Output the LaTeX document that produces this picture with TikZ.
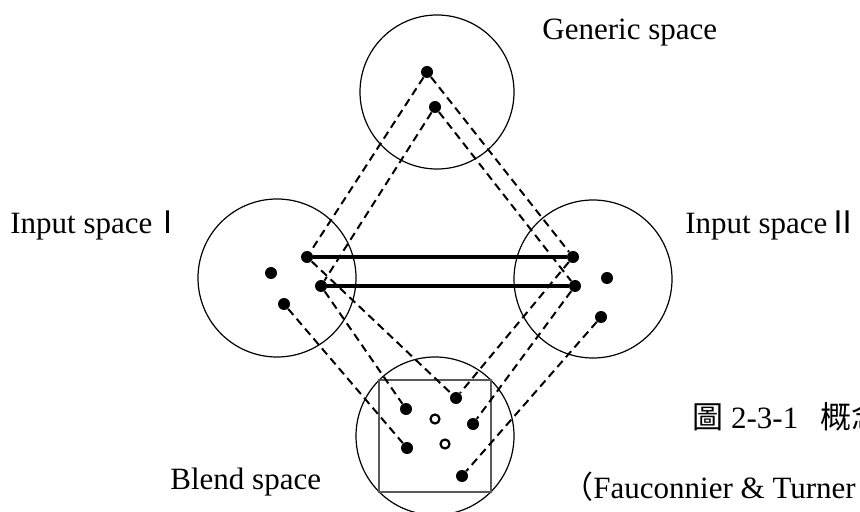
\documentclass[tikz,border=0pt]{standalone}
\usepackage{fontspec}
\setmainfont{Liberation Serif}
\newfontfamily\cjk{Noto Sans CJK TC}
\tikzset{
  space/.style={circle, draw, line width=0.6pt, minimum size=79pt, inner sep=0pt},
  dot/.style={circle, fill=black, minimum size=6pt, inner sep=0pt},
  hollow/.style={circle, draw, line width=1.1pt, fill=white, minimum size=4.5pt, inner sep=0pt},
  link/.style={line width=1pt, dash pattern=on 4pt off 2.5pt},
  map/.style={line width=2.2pt},
  frame/.style={draw=black!65, line width=0.7pt},
  label/.style={anchor=base west, inner sep=0pt, font=\fontsize{15.5}{18}\selectfont}
}

\begin{document}
\begin{tikzpicture}[x=0.5pt, y=-0.5pt]
    \useasboundingbox (0,0) rectangle (860,512);
    \clip (0,0) rectangle (860,512);

    % the four spaces
    \node (gen) [space, minimum size=77pt] at (437,92) {};
    \node (inI) [space] at (277,278) {};
    \node (inII) [space] at (593,279) {};
    \node (blend) [space] at (435,436) {};
    \draw [frame] (379,380) rectangle (491,492);

    % elements
    \node (g1) [dot] at (427,72) {};
    \node (g2) [dot] at (435,107) {};
    \node (a1) [dot] at (307,257) {};
    \node (a2) [dot] at (321,286) {};
    \node (a3) [dot] at (271,273) {};
    \node (a4) [dot] at (284,304) {};
    \node (b1) [dot] at (573,257) {};
    \node (b2) [dot] at (575,286) {};
    \node (b3) [dot] at (607,278) {};
    \node (b4) [dot] at (601,317) {};
    \node (c1) [dot] at (456,398) {};
    \node (c2) [dot] at (406,409) {};
    \node (c3) [dot] at (473,424) {};
    \node (c4) [dot] at (407,448) {};
    \node (c5) [dot] at (462,476) {};
    \node (h1) [hollow] at (435,419) {};
    \node (h2) [hollow] at (445,444) {};

    % mappings
    \draw [map] (a1) -- (b1);
    \draw [map] (a2) -- (b2);
    \draw [link] (g1) -- (a1);
    \draw [link] (g1) -- (b1);
    \draw [link] (g2) -- (a2);
    \draw [link] (g2) -- (b2);
    \draw [link] (a1) -- (c1);
    \draw [link] (b1) -- (c1);
    \draw [link] (a2) -- (c2);
    \draw [link] (b2) -- (c3);
    \draw [link] (a4) -- (c4);
    \draw [link] (b4) -- (c5);

    % labels
    \node (lgen) [label] at (542,40) {Generic space};
    \node (lI) [label] at (10,234) {Input space{\cjk Ⅰ}};
    \node (lII) [label] at (685,234) {Input space{\cjk Ⅱ}};
    \node (lblend) [label] at (170,489) {Blend space};
    \node (cap) [label] at (692,428) {{\cjk 圖} 2-3-1\hspace{0.7em}{\cjk 概念}};
    \node (src) [label] at (562,498) {{\cjk （}Fauconnier \& Turner};
\end{tikzpicture}
\end{document}
